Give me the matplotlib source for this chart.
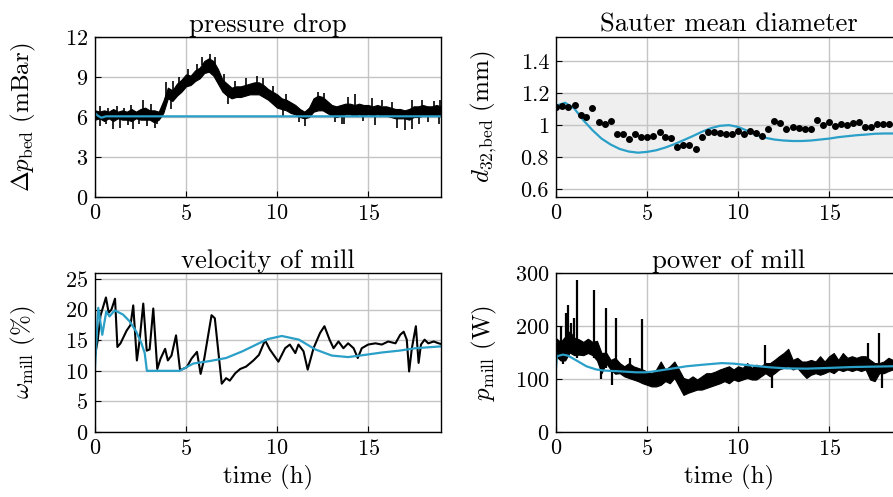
import numpy as np
import matplotlib
matplotlib.use("Agg")
import matplotlib.pyplot as plt

plt.rcParams["font.family"] = ["cmr10"]
plt.rcParams["mathtext.fontset"] = "cm"
plt.rcParams["axes.formatter.use_mathtext"] = True
plt.rcParams["font.size"] = 16

BLUE = "#2a9fc7"

# shared time grid for the noisy bands (h)
t_band = [0, 0.25, 0.5, 0.75, 1.0, 1.25, 1.5, 1.75, 2.0, 2.25, 2.5, 2.75, 3.0, 3.25, 3.5, 3.75,
          4.0, 4.25, 4.5, 4.75, 5.0, 5.25, 5.5, 5.75, 6.0, 6.25, 6.5, 6.75, 7.0, 7.25, 7.5, 7.75,
          8.0, 8.25, 8.5, 8.75, 9.0, 9.25, 9.5, 9.75, 10.0, 10.25, 10.5, 10.75, 11.0, 11.25, 11.5,
          11.75, 12.0, 12.25, 12.5, 12.75, 13.0, 13.25, 13.5, 13.75, 14.0, 14.25, 14.5, 14.75,
          15.0, 15.25, 15.5, 15.75, 16.0, 16.25, 16.5, 16.75, 17.0, 17.25, 17.5, 17.75, 18.0,
          18.25, 18.5, 18.75, 19.0]

# pressure drop (mBar): dense core of the measurement, its spikes, model
dp_hi = [6.5, 6.4, 6.5, 6.4, 6.6, 6.4, 6.5, 6.4, 6.6, 6.4, 6.6, 6.7, 6.5, 6.5, 6.4, 7.2,
         8.2, 8.0, 8.5, 8.8, 9.2, 9.1, 9.5, 9.7, 10.2, 10.4, 10.2, 9.6, 8.8, 8.5, 8.2, 8.3,
         8.3, 8.4, 8.5, 8.6, 8.6, 8.4, 8.1, 7.9, 7.7, 7.4, 7.3, 7.1, 6.9, 6.6, 6.4, 6.7,
         7.4, 7.6, 7.5, 7.2, 6.9, 6.8, 6.9, 7.0, 7.0, 6.9, 7.0, 6.9, 6.9, 6.8, 6.9, 6.8,
         6.8, 6.7, 6.6, 6.6, 6.5, 6.6, 6.8, 6.8, 6.9, 6.8, 6.8, 6.9, 6.8]
dp_lo = [5.8, 5.9, 5.7, 5.9, 5.7, 5.9, 5.8, 5.8, 5.7, 5.9, 5.8, 5.8, 5.8, 5.6, 5.8, 6.3,
         7.4, 7.2, 7.6, 7.9, 8.3, 8.4, 8.7, 8.9, 9.3, 9.4, 9.1, 8.5, 7.9, 7.6, 7.4, 7.5,
         7.5, 7.6, 7.7, 7.7, 7.7, 7.5, 7.3, 7.0, 6.7, 6.6, 6.5, 6.3, 6.2, 6.0, 5.9, 6.0,
         6.4, 6.5, 6.5, 6.3, 6.1, 6.0, 6.1, 6.2, 6.2, 6.1, 6.2, 6.1, 6.2, 6.1, 6.2, 6.1,
         6.1, 6.0, 5.9, 5.9, 5.9, 5.8, 6.0, 6.0, 6.1, 6.1, 6.1, 6.1, 6.1]
dp_spikes = [  # (t, low, high)
    (0.3, 6.3, 6.8), (0.7, 6.3, 6.7), (1.2, 6.3, 6.8), (1.6, 6.3, 6.7), (2.0, 6.4, 6.9),
    (2.65, 6.5, 7.3), (3.1, 6.4, 7.0), (3.9, 7.0, 8.6), (4.3, 7.9, 8.7), (4.6, 8.3, 9.0),
    (5.1, 9.0, 9.6), (5.6, 9.4, 10.0), (5.9, 9.9, 10.5), (6.3, 10.2, 10.7), (6.6, 10.0, 10.5),
    (7.1, 8.6, 9.2), (7.7, 8.1, 8.7), (8.3, 8.3, 8.9), (8.9, 8.5, 9.1), (9.2, 8.3, 8.9),
    (9.8, 7.8, 8.3), (10.5, 7.2, 7.7), (12.27, 7.4, 7.9), (12.6, 7.4, 7.8), (13.9, 6.9, 7.5),
    (14.3, 6.9, 7.7), (15.2, 6.8, 7.4), (15.75, 6.8, 7.3), (16.3, 6.7, 7.1), (17.4, 6.6, 7.3),
    (17.95, 6.8, 7.3), (18.6, 6.8, 7.2), (18.95, 6.8, 7.3),
    (0.27, 5.3, 5.9), (0.6, 5.5, 5.9), (1.0, 5.1, 5.8), (1.4, 5.2, 5.9), (1.8, 5.4, 5.9),
    (2.1, 5.1, 5.8), (2.4, 5.5, 5.9), (2.85, 5.3, 5.9), (3.3, 5.2, 5.7), (3.4, 5.5, 5.8),
    (4.2, 6.6, 7.3), (7.3, 7.0, 7.6), (10.3, 6.1, 6.6), (11.2, 5.6, 6.1), (11.54, 5.3, 6.0),
    (13.2, 5.6, 6.1), (13.55, 5.5, 6.1), (13.7, 5.5, 6.2), (14.7, 5.7, 6.2), (15.4, 5.4, 6.2),
    (16.6, 5.15, 6.0), (17.0, 5.0, 5.9), (17.4, 5.1, 5.9), (17.77, 5.5, 6.0), (18.3, 5.6, 6.1),
    (18.9, 5.5, 6.1)]
dp_model_t = [0, 0.15, 0.35, 0.6, 1.0, 19.0]
dp_model = [6.3, 6.1, 5.95, 6.05, 6.05, 6.05]

# Sauter mean diameter (mm): samples + model
d32_t = [0.0, 0.35, 0.68, 1.02, 1.35, 1.66, 1.99, 2.34, 2.67, 3.0, 3.35, 3.67, 4.02, 4.35,
         4.68, 5.01, 5.34, 5.69, 6.01, 6.34, 6.67, 7.0, 7.33, 7.68, 8.01, 8.34, 8.67, 9.01,
         9.34, 9.67, 10.0, 10.33, 10.68, 11.0, 11.33, 11.66, 11.99, 12.32, 12.65, 13.0,
         13.33, 13.66, 13.99, 14.31, 14.64, 14.99, 15.32, 15.65, 15.98, 16.31, 16.64,
         16.98, 17.31, 17.64, 17.97, 18.3]
d32 = [1.115, 1.12, 1.115, 1.128, 1.063, 1.048, 1.107, 1.017, 1.006, 1.027, 0.945, 0.943,
       0.91, 0.943, 0.926, 0.926, 0.93, 0.954, 0.926, 0.92, 0.861, 0.878, 0.874, 0.847,
       0.924, 0.956, 0.956, 0.952, 0.943, 0.943, 0.96, 0.943, 0.964, 0.948, 0.933, 0.977,
       1.027, 1.01, 0.973, 0.99, 0.983, 0.977, 0.977, 1.03, 1.002, 1.019, 0.994, 1.008,
       1.0, 1.01, 1.02, 0.987, 0.987, 1.004, 1.004, 1.004]
d32_model_t = [0, 0.5, 1.0, 1.5, 2, 2.5, 3, 3.5, 4, 4.5, 5, 5.5, 6, 6.5, 7, 7.5, 8, 8.5, 9,
               9.5, 10, 10.5, 11, 11.5, 12, 12.5, 13, 13.5, 14, 14.5, 15, 15.5, 16, 16.5,
               17, 17.5, 18, 18.5, 19]
d32_model = [1.12, 1.139, 1.104, 1.03, 0.968, 0.915, 0.878, 0.85, 0.834, 0.827, 0.832,
             0.842, 0.859, 0.88, 0.905, 0.93, 0.957, 0.98, 0.995, 0.999, 0.988, 0.964,
             0.936, 0.92, 0.909, 0.903, 0.9, 0.9, 0.903, 0.909, 0.915, 0.924, 0.93, 0.936,
             0.94, 0.945, 0.947, 0.947, 0.946]
d32_band = (0.8, 1.2)

# velocity of mill (%)
w_t = [0, 0.15, 0.3, 0.45, 0.6, 0.75, 0.9, 1.1, 1.23, 1.4, 1.74, 1.95, 2.1, 2.3, 2.45, 2.65,
       2.84, 3.0, 3.2, 3.42, 3.6, 3.85, 4.0, 4.2, 4.45, 4.67, 5.04, 5.3, 5.6, 5.8, 6.0, 6.4,
       6.58, 6.76, 6.96, 7.2, 7.4, 7.7, 7.97, 8.3, 8.7, 9.0, 9.34, 9.6, 10.07, 10.44, 10.7,
       11.0, 11.17, 11.45, 11.68, 12.0, 12.36, 12.6, 12.88, 13.1, 13.37, 13.64, 13.9, 14.2,
       14.43, 14.65, 15.0, 15.4, 15.75, 16.1, 16.5, 16.76, 16.95, 17.12, 17.25, 17.4, 17.62,
       17.77, 17.9, 18.1, 18.3, 18.6, 18.87, 19.0]
w_meas = [12.5, 15, 19, 20.5, 22, 19.5, 20, 21.8, 13.9, 14.5, 16.6, 17.5, 20.7, 11.7, 15, 21,
          13.3, 13.5, 20.2, 10.3, 12, 13.6, 11.7, 12.5, 15.8, 10.1, 10.6, 12, 13.1, 9.5, 12,
          19.1, 18.6, 13.5, 7.9, 8.8, 8.4, 9.6, 10.3, 10.7, 11.7, 12.6, 15.0, 13.5, 11.5, 13.7,
          14.3, 12.9, 14.3, 13.2, 10.2, 13.7, 16.2, 17.3, 15.1, 13.7, 14.8, 13.7, 14.5, 13.7,
          12.1, 13.7, 14.3, 14.5, 14.3, 14.8, 14.5, 15.9, 16.4, 15.1, 9.9, 13.7, 17.3, 11.3,
          14.3, 15.1, 14.5, 14.8, 14.5, 14.4]
w_model_t = [0, 0.18, 0.4, 0.62, 0.8, 1.08, 1.54, 1.9, 2.27, 2.55, 2.73, 2.85, 4.65, 5.4, 6.3,
             7.2, 8.1, 9.0, 9.5, 10.26, 11.2, 12.1, 13.0, 13.9, 14.8, 15.75, 16.7, 17.6, 19.0]
w_model = [10.7, 20.3, 15.9, 19.7, 18.9, 19.9, 19.2, 18.1, 16.4, 14.5, 12.9, 10, 10, 11.2,
           11.6, 12.1, 13.2, 14.5, 15.2, 15.7, 15.1, 13.5, 12.5, 12.25, 12.6, 13.0, 13.3,
           13.7, 14.0]

# power of mill (W): measured band, single spikes, model
p_hi = [177, 170, 180, 190, 178, 175, 170, 176, 170, 172, 149, 150, 136, 140, 130, 124,
        130, 124, 121, 118, 114, 111, 118, 133, 118, 124, 133, 118, 102, 99, 105, 99,
        105, 111, 111, 114, 118, 121, 124, 118, 124, 121, 130, 121, 127, 124, 130,
        130, 136, 143, 149, 157, 136, 140, 133, 133, 136, 133, 143, 133,
        143, 149, 136, 149, 140, 143, 140, 143, 143, 136, 130, 130, 133,
        140, 136, 136, 136]
p_lo = [143, 135, 135, 150, 145, 146, 145, 149, 145, 135, 111, 130, 118, 110, 111, 105,
        102, 99, 96, 92, 89, 86, 86, 89, 96, 92, 102, 86, 70, 74, 77, 80,
        80, 83, 86, 89, 92, 96, 92, 99, 96, 99, 102, 99, 99, 105, 111,
        105, 111, 118, 121, 124, 118, 121, 111, 102, 108, 111, 108, 111,
        115, 111, 118, 115, 118, 115, 118, 115, 118, 99, 96, 111, 111,
        115, 118, 118, 118]
p_spike_t = [0.3, 0.53, 0.66, 0.85, 0.97, 1.15, 2.1, 2.77, 3.28, 4.05, 4.7, 11.5, 17.15, 17.73,
             0.4, 2.45, 3.1, 11.88, 17.9]
p_spike_lo = [150, 150, 150, 150, 150, 140, 140, 120, 110, 110, 100, 110, 120, 110,
              128, 100, 88, 83, 83]
p_spike_hi = [200, 225, 240, 205, 215, 286, 267, 234, 215, 140, 213, 165, 167, 187,
              150, 140, 130, 120, 120]
p_model_t = [0, 0.05, 0.38, 0.66, 1.12, 1.67, 2.2, 2.6, 3.5, 4.4, 4.9, 5.3, 6.25, 7.16, 8.08,
             9.1, 9.75, 10.84, 11.76, 12.67, 13.77, 15.05, 16.3, 18.5, 19.0]
p_model = [121, 143, 146, 144, 135, 124, 118, 116, 114.5, 112.6, 112.6, 114, 119, 124, 127,
           130, 129, 125, 122, 120, 119.5, 121, 122.6, 124, 124]

W, H = 893, 497
fig = plt.figure(figsize=(W / 100, H / 100), dpi=100)


def make_ax(x0, y_top, y_bot, width=346):
    ax = fig.add_axes([x0 / W, 1 - y_bot / H, width / W, (y_bot - y_top) / H])
    ax.set_xlim(0, 19)
    ax.set_xticks([0, 5, 10, 15])
    ax.grid(True, color="#c4c4c4", lw=1.0)
    ax.set_axisbelow(True)
    ax.tick_params(direction="in", length=4, width=0.8, pad=5)
    for s in ax.spines.values():
        s.set_linewidth(1.0)
    return ax


ax1 = make_ax(95, 37, 197)
ax2 = make_ax(556, 37, 197)
ax3 = make_ax(95, 273, 432)
ax4 = make_ax(556, 273, 432)

# pressure drop
ax1.fill_between(t_band, dp_lo, dp_hi, color="black", lw=0.8)
sp_t, sp_lo, sp_hi = zip(*dp_spikes)
ax1.vlines(sp_t, sp_lo, sp_hi, color="black", lw=1.2)
ax1.plot(dp_model_t, dp_model, color=BLUE, lw=1.6)
ax1.set_ylim(0, 12)
ax1.set_yticks([0, 3, 6, 9, 12])
ax1.set_title("pressure drop", pad=3)
ax1.set_ylabel(r"$\Delta p_{\mathrm{bed}}\ (\mathrm{mBar})$", fontsize=18)

# Sauter mean diameter
ax2.axhspan(d32_band[0], d32_band[1], color="#efefef", zorder=0)
ax2.plot(d32_model_t, d32_model, color=BLUE, lw=1.6)
ax2.plot(d32_t, d32, "o", color="black", ms=4)
ax2.set_ylim(0.55, 1.55)
ax2.set_yticks([0.6, 0.8, 1.0, 1.2, 1.4])
ax2.set_yticklabels(["0.6", "0.8", "1", "1.2", "1.4"])
ax2.set_title("Sauter mean diameter", pad=3)
ax2.set_ylabel(r"$d_{32,\!\mathrm{bed}}\ (\mathrm{mm})$", fontsize=18)

# velocity of mill
ax3.plot(w_t, w_meas, color="black", lw=1.5)
ax3.plot(w_model_t, w_model, color=BLUE, lw=1.6)
ax3.set_ylim(0, 26)
ax3.set_yticks([0, 5, 10, 15, 20, 25])
ax3.set_title("velocity of mill", pad=3)
ax3.set_ylabel(r"$\omega_{\mathrm{mill}}\ (\%)$", fontsize=18)
ax3.set_xlabel("time (h)", fontsize=18)

# power of mill
ax4.fill_between(t_band, p_lo, p_hi, color="black", lw=0.8)
ax4.vlines(p_spike_t, p_spike_lo, p_spike_hi, color="black", lw=1.6)
ax4.plot(p_model_t, p_model, color=BLUE, lw=1.6)
ax4.set_ylim(0, 300)
ax4.set_yticks([0, 100, 200, 300])
ax4.set_title("power of mill", pad=3)
ax4.set_ylabel(r"$p_{\mathrm{mill}}\ (\mathrm{W})$", fontsize=18)
ax4.set_xlabel("time (h)", fontsize=18)

for ax in (ax1, ax2, ax3, ax4):
    ax.yaxis.set_label_coords(-0.165, 0.5)

fig.savefig("out.png", dpi=100)
